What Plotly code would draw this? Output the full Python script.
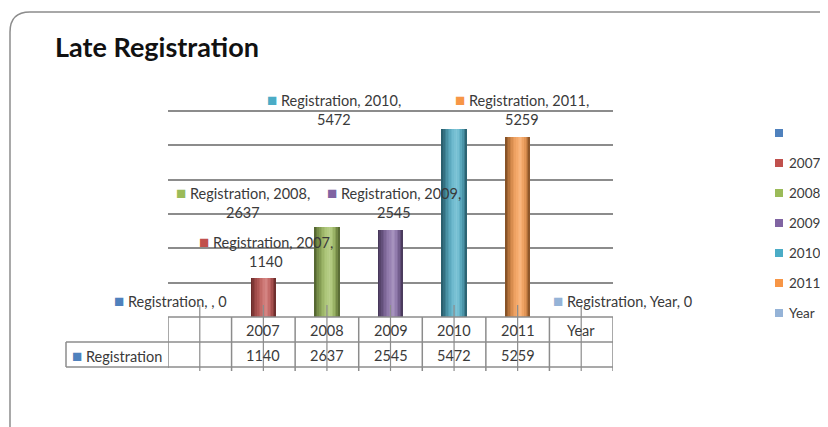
import plotly.graph_objects as go

# ---------------- data ----------------
categories = ["", "2007", "2008", "2009", "2010", "2011", "Year"]
registrations = [0, 1140, 2637, 2545, 5472, 5259, 0]
series_name = "Registration"
series_colors = ["#4F81BD", "#C0504D", "#9BBB59", "#8064A2", "#4BACC6", "#F79646", "#95B3D7"]
grid_values = [1000, 2000, 3000, 4000, 5000, 6000]
table_values = [str(v) if v else "" for v in registrations]
title_text = "Late Registration"

# ---------------- styling helpers ----------------
# The page body has an 8px margin, so the figure is drawn 8px smaller and
# reference pixel coordinates are shifted by that margin.
PAGE_OFF = 8
W, H = 828 - PAGE_OFF, 427 - PAGE_OFF
FONT = "Lato"
FS = 14.5
TXT = "#3a3a3a"
LINE = "#8c8c8c"


def px(x):
    return (x - PAGE_OFF) / W


def py(y):
    return 1 - (y - PAGE_OFF) / H


def hex2rgb(h):
    h = h.lstrip("#")
    return [int(h[i:i + 2], 16) for i in (0, 2, 4)]


def shade(hexcol, t):
    r, g, b = hex2rgb(hexcol)
    t0 = 0.6
    d = (t - t0) / (t0 if t < t0 else 1 - t0)
    d = min(1.0, abs(d))
    dark = 0.5 * d ** 2.0
    light = 0.30 * (1 - d) ** 1.5
    out = []
    for c in (r, g, b):
        c = c * (1 - dark)
        c = c + (255 - c) * light
        out.append(int(round(max(0, min(255, c)))))
    return "rgb(%d,%d,%d)" % tuple(out)


xs = list(range(len(categories)))
fig = go.Figure()

# cylinder-like bars built from vertical strips
BW = 0.4
N = 16
for k in range(N):
    off = -BW / 2 + k * BW / N
    wid = BW / N * (1.35 if k < N - 1 else 1.0)
    t = (k + 0.5) / N
    fig.add_trace(go.Bar(
        x=xs, y=registrations, width=[wid] * len(xs), offset=[off] * len(xs),
        marker=dict(color=[shade(c, t) for c in series_colors], line=dict(width=0)),
        showlegend=False, hoverinfo="skip",
    ))

annotations = []
shapes = []

# title
annotations.append(dict(xref="paper", yref="paper", x=px(53), y=py(46), xanchor="left", yanchor="middle",
                        text="<b>%s</b>" % title_text, showarrow=False,
                        font=dict(family=FONT, size=27, color="#111111")))

SQ = "<span style='color:%s;font-size:17px'>■</span>"

# data labels (offsets in px relative to bar top / category centre)
label_offsets = [(-29, 17), (3, 26), (-84, 24), (3, 27), (-120, 20), (4, 27), (41, 17)]
for i, (cat, val, col) in enumerate(zip(categories, registrations, series_colors)):
    dx, dy = label_offsets[i]
    sq = (SQ % col) + " "
    if val:
        lines = [sq + "%s, %s," % (series_name, cat), str(val)]
        shifts = [dy + 10, dy - 10]
    else:
        lines = [sq + "%s, %s, %s" % (series_name, cat, val)]
        shifts = [dy]
    for ln, sh in zip(lines, shifts):
        annotations.append(dict(xref="x", yref="y", x=i, y=val, xshift=dx, yshift=sh,
                                xanchor="center", yanchor="middle", text=ln, showarrow=False,
                                font=dict(family=FONT, size=FS, color=TXT)))

# data table text
for i in xs:
    annotations.append(dict(xref="x", yref="paper", x=i, y=py(330), text=categories[i], showarrow=False,
                            xanchor="center", yanchor="middle", font=dict(family=FONT, size=FS, color=TXT)))
    annotations.append(dict(xref="x", yref="paper", x=i, y=py(355), text=table_values[i], showarrow=False,
                            xanchor="center", yanchor="middle", font=dict(family=FONT, size=FS, color=TXT)))
annotations.append(dict(xref="paper", yref="paper", x=px(70), y=py(355), xanchor="left", yanchor="middle",
                        text=(SQ % series_colors[0]) + " " + series_name,
                        showarrow=False, font=dict(family=FONT, size=FS, color=TXT)))

# legend (manual), kept inside the visible page width
for j, (cat, col) in enumerate(zip(categories, series_colors)):
    yc = 133 + 30 * j
    shapes.append(dict(type="rect", xref="paper", yref="paper", x0=px(775), x1=px(783),
                       y0=py(yc + 4), y1=py(yc - 4), fillcolor=col, line=dict(width=0)))
    annotations.append(dict(xref="paper", yref="paper", x=px(787), y=py(yc), xanchor="left", yanchor="middle",
                            text=cat, showarrow=False, font=dict(family=FONT, size=13.5, color=TXT)))

# table lines
x_left, x_right = px(168), px(613)
shapes.append(dict(type="line", xref="paper", yref="paper", x0=x_left, x1=x_right, y0=py(317), y1=py(317),
                   line=dict(color=LINE, width=1.5)))
for yy in (342, 367):
    shapes.append(dict(type="line", xref="paper", yref="paper", x0=px(66), x1=x_right, y0=py(yy), y1=py(yy),
                       line=dict(color=LINE, width=1.5)))
shapes.append(dict(type="line", xref="paper", yref="paper", x0=px(66), x1=px(66), y0=py(342), y1=py(367),
                   line=dict(color=LINE, width=1.5)))
for i in range(len(xs) + 1):
    shapes.append(dict(type="line", xref="x", yref="paper", x0=i - 0.5, x1=i - 0.5, y0=py(317),
                       y1=py(368 if i == 0 else 371), line=dict(color=LINE, width=1.5)))
for i in xs:
    shapes.append(dict(type="line", xref="x", yref="paper", x0=i, x1=i, y0=py(305), y1=py(371),
                       line=dict(color=LINE, width=1.2)))

# outer chart frame (rounded corner)
frame_path = "M %f,%f L %f,%f Q %f,%f %f,%f L %f,%f" % (
    px(10), py(445), px(10), py(32), px(10), py(12), px(30), py(12), px(850), py(12))
shapes.append(dict(type="path", xref="paper", yref="paper", path=frame_path, line=dict(color=LINE, width=1.5)))

# value axis: 0 at y=317px, 6000 at y=111px; range a little above 6000 so the top gridline shows
Y_BASE, Y_6000 = 317, 111
y_top_val = 6150
y_top_px = Y_BASE - (Y_BASE - Y_6000) * y_top_val / 6000

fig.update_layout(
    width=W, height=H, margin=dict(l=0, r=0, t=0, b=0),
    paper_bgcolor="white", plot_bgcolor="white",
    barmode="overlay", bargap=0,
    showlegend=False,
    xaxis=dict(domain=[px(168), px(613)], range=[-0.5, 6.5], showticklabels=False, showgrid=False,
               zeroline=False, showline=False, ticks="", fixedrange=True),
    yaxis=dict(domain=[py(Y_BASE), py(y_top_px)], range=[0, y_top_val], tickvals=grid_values,
               showticklabels=False, showgrid=True, gridcolor=LINE, gridwidth=1.5, zeroline=False,
               showline=False, ticks=""),
    annotations=annotations, shapes=shapes,
)

fig.write_html("out.html", default_width="%dpx" % W, default_height="%dpx" % H)
